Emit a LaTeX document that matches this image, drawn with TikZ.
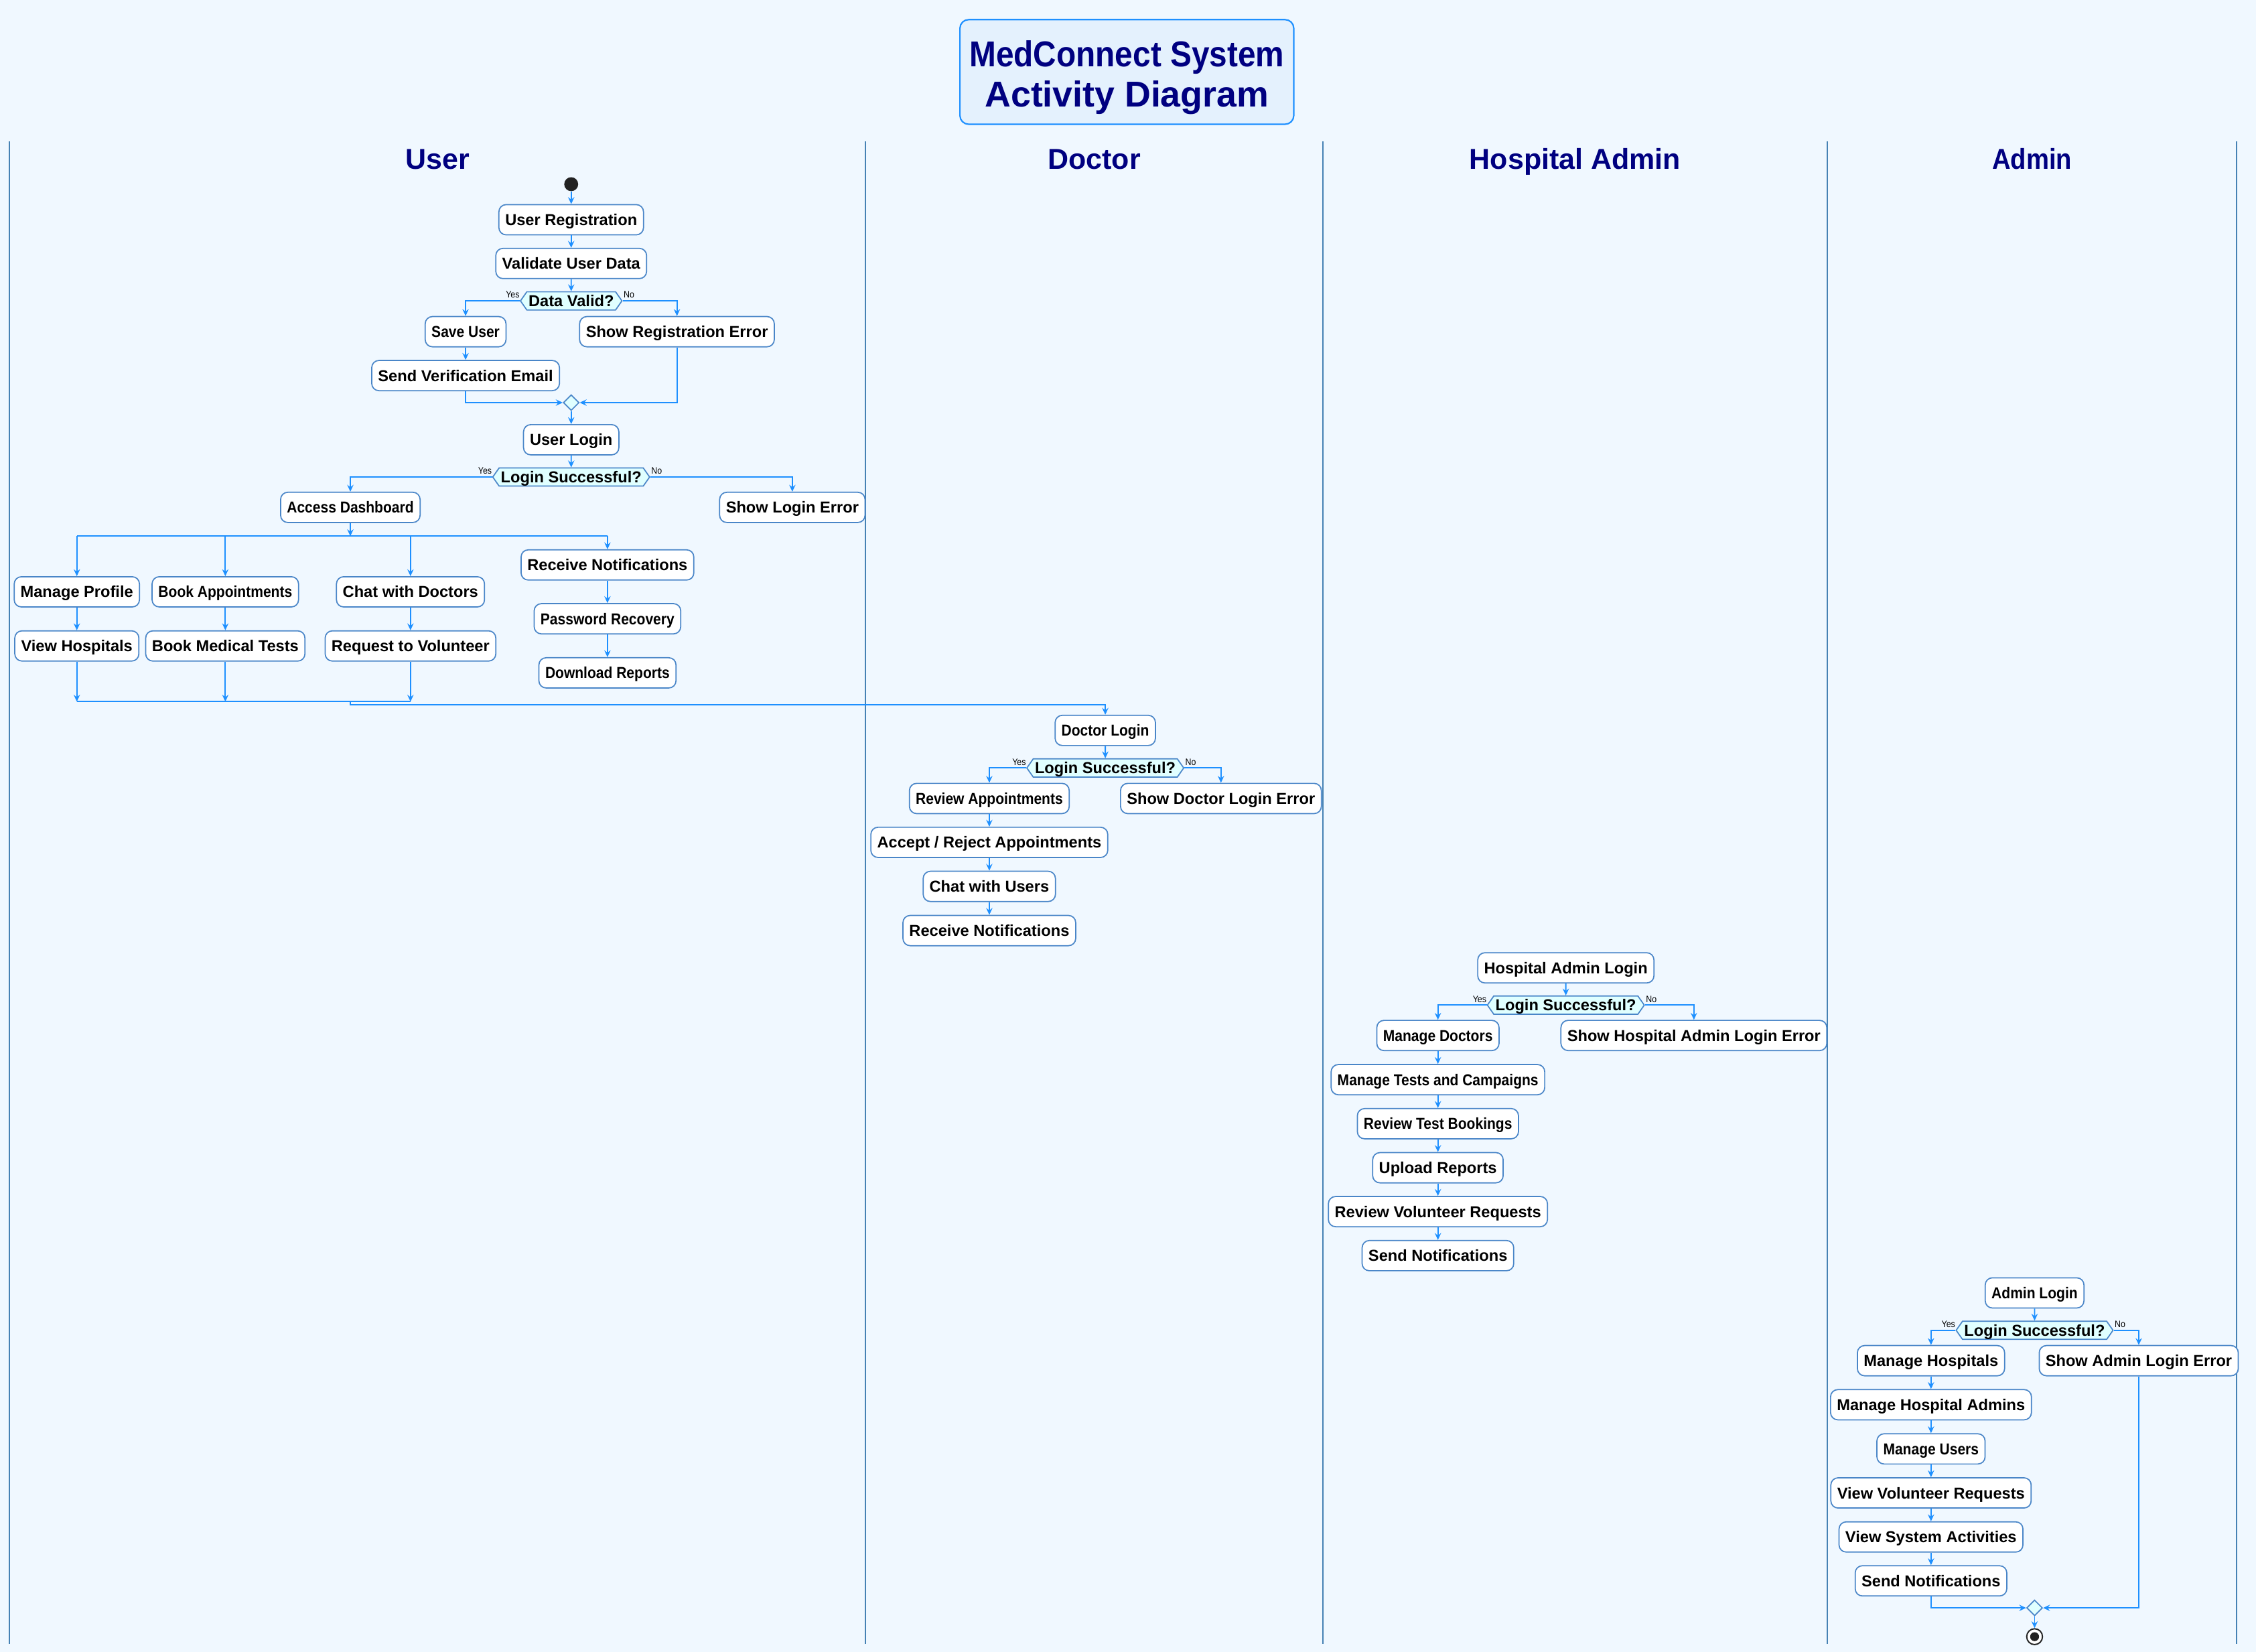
\documentclass[tikz,border=0pt]{standalone}
\usepackage{fontspec}
\setmainfont{Liberation Sans}
\newfontfamily\tightfont[FakeStretch=0.89]{Liberation Sans}
\usetikzlibrary{shapes.geometric,shapes.symbols,arrows.meta}

\definecolor{bgcol}{HTML}{F0F8FF}
\definecolor{lanecol}{HTML}{4682B4}
\definecolor{bordercol}{HTML}{4A86C8}
\definecolor{flowcol}{HTML}{1E90FF}
\definecolor{hexfill}{HTML}{E0FFFF}
\definecolor{titlefill}{HTML}{E4F1FD}
\definecolor{titlecol}{HTML}{000080}
\definecolor{dotcol}{HTML}{222222}

\begin{document}
\begin{tikzpicture}[x=1pt, y=-1pt,
  act/.style={draw=bordercol, fill=white, line width=0.8pt, rounded corners=5pt,
    minimum height=21pt, inner xsep=4.4pt, inner ysep=0pt, text height=7.9pt, text depth=0pt,
    font=\bfseries\fontsize{11}{13}\selectfont},
  tight/.style={font=\tightfont\bfseries\fontsize{11}{13}\selectfont},
  cond/.style={signal, signal to=east and west, signal pointer angle=110,
    draw=bordercol, fill=hexfill, line width=0.8pt, minimum height=12.6pt,
    inner xsep=1.2pt, inner ysep=0pt, text height=7.9pt, text depth=0pt,
    font=\bfseries\fontsize{11}{13}\selectfont},
  guard/.style={inner sep=0pt, font=\tightfont\fontsize{6.5}{7}\selectfont},
  merge/.style={diamond, draw=bordercol, fill=hexfill, line width=0.8pt,
    minimum size=11pt, inner sep=0pt},
  startdot/.style={circle, fill=dotcol, minimum size=9.7pt, inner sep=0pt},
  enddot/.style={circle, draw=dotcol, fill=white, line width=0.9pt,
    minimum size=11pt, inner sep=0pt},
  flow/.style={draw=flowcol, line width=0.9pt, -{Stealth[length=4.8pt,width=4.4pt,inset=1.7pt]}},
  wire/.style={draw=flowcol, line width=0.9pt},
  lane/.style={draw=lanecol, line width=0.9pt},
  lanehead/.style={anchor=base, text=titlecol, font=\bfseries\fontsize{20}{24}\selectfont},
  titlebox/.style={draw=flowcol, fill=titlefill, line width=1pt, rounded corners=6pt,
    minimum width=232pt, minimum height=72.7pt},
  titletext/.style={align=center, text=titlecol, inner sep=0pt,
    font=\bfseries\fontsize{25}{28}\selectfont}]
\useasboundingbox (0,0) rectangle (1568,1148);
\fill[bgcol] (0,0) rectangle (1568,1148);

% Title
\node[titlebox] (title) at (783.2,50) {};
\node[titletext] (titletxt) at (783.2,54) {{\tightfont MedConnect System}\\Activity Diagram};

% Swimlanes
\draw[lane] (6.5,98.2) -- (6.5,1142.3);
\draw[lane] (601.7,98.2) -- (601.7,1142.3);
\draw[lane] (919.3,98.2) -- (919.3,1142.3);
\draw[lane] (1270,98.2) -- (1270,1142.3);
\draw[lane] (1554.5,98.2) -- (1554.5,1142.3);
\node[lanehead] (huser) at (304,117.5) {User};
\node[lanehead] (hdoc) at (760.5,117.5) {Doctor};
\node[lanehead] (hhadm) at (1094.7,117.5) {Hospital Admin};
\node[lanehead] (hadm) at (1412.3,117.5) {\tightfont Admin};

% User: registration
\node[startdot] (start) at (397,128) {};
\node[act] (ureg) at (397,152.7) {User Registration};
\node[act] (uval) at (397,183.1) {Validate User Data};
\node[cond] (vhex) at (397,209.1) {Data Valid?};
\node[guard, anchor=base east] (vyes) at ([yshift=2pt]vhex.west) {Yes};
\node[guard, anchor=base west] (vno) at ([yshift=2pt, xshift=0.5pt]vhex.east) {No};
\node[act, tight] (saveu) at (323.6,230.5) {Save User};
\node[act] (regerr) at (470.5,230.5) {Show Registration Error};
\node[act] (sendve) at (323.6,261) {Send Verification Email};
\node[merge] (umerge) at (397,279.8) {};
\draw[flow] (start) -- (ureg);
\draw[flow] (ureg) -- (uval);
\draw[flow] (uval) -- (vhex);
\draw[flow] (vhex.west) -| (saveu);
\draw[flow] (vhex.east) -| (regerr);
\draw[flow] (saveu) -- (sendve);
\draw[flow] (sendve) |- (umerge);
\draw[flow] (regerr) |- (umerge);

% User: login
\node[act] (ulogin) at (397,305.6) {User Login};
\node[cond] (uhex) at (397,331.5) {Login Successful?};
\node[guard, anchor=base east] (uyes) at ([yshift=2pt]uhex.west) {Yes};
\node[guard, anchor=base west] (uno) at ([yshift=2pt, xshift=0.5pt]uhex.east) {No};
\node[act, tight] (dboard) at (243.5,352.6) {Access Dashboard};
\node[act] (uerr) at (550.7,352.6) {Show Login Error};
\draw[flow] (umerge) -- (ulogin);
\draw[flow] (ulogin) -- (uhex);
\draw[flow] (uhex.west) -| (dboard);
\draw[flow] (uhex.east) -| (uerr);

% User: fork
\coordinate (forkL) at (53.4,372.6);
\coordinate (forkR) at (422.2,372.6);
\node[act] (mprof) at (53.4,411.3) {Manage Profile};
\node[act, tight] (bappt) at (156.6,411.3) {Book Appointments};
\node[act] (chatd) at (285.3,411.3) {Chat with Doctors};
\node[act] (rnotif) at (422.2,392.6) {Receive Notifications};
\node[act] (vhosp) at (53.4,448.9) {View Hospitals};
\node[act] (btests) at (156.6,448.9) {Book Medical Tests};
\node[act] (reqvol) at (285.3,448.9) {Request to Volunteer};
\node[act, tight] (pwrec) at (422.2,430) {Password Recovery};
\node[act, tight] (dlrep) at (422.2,467.6) {Download Reports};
\draw[flow] (dboard) -- (dboard |- forkL);
\draw[wire] (forkL) -- (forkR);
\draw[flow] (forkL) -- (mprof);
\draw[flow] (bappt |- forkL) -- (bappt);
\draw[flow] (chatd |- forkL) -- (chatd);
\draw[flow] (forkR) -- (rnotif);
\draw[flow] (mprof) -- (vhosp);
\draw[flow] (bappt) -- (btests);
\draw[flow] (chatd) -- (reqvol);
\draw[flow] (rnotif) -- (pwrec);
\draw[flow] (pwrec) -- (dlrep);

% User: join
\coordinate (joinL) at (53.4,487.6);
\draw[flow] (vhosp) -- (joinL);
\draw[flow] (btests) -- (btests |- joinL);
\draw[flow] (reqvol) -- (reqvol |- joinL);
\draw[wire] (joinL) -- (reqvol |- joinL);

% Doctor
\node[act, tight] (dlogin) at (768.2,507.6) {Doctor Login};
\node[cond] (dhex) at (768.2,533.7) {Login Successful?};
\node[guard, anchor=base east] (dyes) at ([yshift=2pt]dhex.west) {Yes};
\node[guard, anchor=base west] (dno) at ([yshift=2pt, xshift=0.5pt]dhex.east) {No};
\node[act, tight] (revapp) at (687.6,554.9) {Review Appointments};
\node[act] (dlerr) at (848.6,554.9) {Show Doctor Login Error};
\node[act] (accrej) at (687.6,585.4) {Accept / Reject Appointments};
\node[act] (chatu) at (687.6,616) {Chat with Users};
\node[act] (drnotif) at (687.6,646.7) {Receive Notifications};
\draw[flow] (dboard |- joinL) -- ++(0,2.3) -| (dlogin);
\draw[flow] (dlogin) -- (dhex);
\draw[flow] (dhex.west) -| (revapp);
\draw[flow] (dhex.east) -| (dlerr);
\draw[flow] (revapp) -- (accrej);
\draw[flow] (accrej) -- (chatu);
\draw[flow] (chatu) -- (drnotif);

% Hospital Admin
\node[act] (halogin) at (1088.3,672.6) {Hospital Admin Login};
\node[cond] (hahex) at (1088.3,698.5) {Login Successful?};
\node[guard, anchor=base east] (hayes) at ([yshift=2pt]hahex.west) {Yes};
\node[guard, anchor=base west] (hano) at ([yshift=2pt, xshift=0.5pt]hahex.east) {No};
\node[act, tight] (mdoc) at (999.4,719.6) {Manage Doctors};
\node[act] (haerr) at (1177.3,719.6) {Show Hospital Admin Login Error};
\node[act, tight] (mtests) at (999.4,750.3) {Manage Tests and Campaigns};
\node[act, tight] (rtb) at (999.4,780.9) {Review Test Bookings};
\node[act] (upl) at (999.4,811.5) {Upload Reports};
\node[act] (rvr) at (999.4,842) {Review Volunteer Requests};
\node[act] (hasend) at (999.4,872.6) {Send Notifications};
\draw[flow] (halogin) -- (hahex);
\draw[flow] (hahex.west) -| (mdoc);
\draw[flow] (hahex.east) -| (haerr);
\draw[flow] (mdoc) -- (mtests);
\draw[flow] (mtests) -- (rtb);
\draw[flow] (rtb) -- (upl);
\draw[flow] (upl) -- (rvr);
\draw[flow] (rvr) -- (hasend);

% Admin
\node[act, tight] (alogin) at (1414.1,898.5) {Admin Login};
\node[cond] (ahex) at (1414.1,924.5) {Login Successful?};
\node[guard, anchor=base east] (ayes) at ([yshift=2pt]ahex.west) {Yes};
\node[guard, anchor=base west] (ano) at ([yshift=2pt, xshift=0.5pt]ahex.east) {No};
\node[act] (mhosp) at (1342.1,945.6) {Manage Hospitals};
\node[act] (aerr) at (1486.5,945.6) {Show Admin Login Error};
\node[act] (mhadm) at (1342.1,976.2) {Manage Hospital Admins};
\node[act, tight] (musers) at (1342.1,1006.9) {Manage Users};
\node[act] (vvr) at (1342.1,1037.5) {View Volunteer Requests};
\node[act] (vsa) at (1342.1,1068.1) {View System Activities};
\node[act] (asend) at (1342.1,1098.6) {Send Notifications};
\node[merge] (amerge) at (1414.1,1117.4) {};
\node[enddot] (endn) at (1414.1,1137.4) {};
\fill[dotcol] (endn) circle (3.1pt);
\draw[flow] (alogin) -- (ahex);
\draw[flow] (ahex.west) -| (mhosp);
\draw[flow] (ahex.east) -| (aerr);
\draw[flow] (mhosp) -- (mhadm);
\draw[flow] (mhadm) -- (musers);
\draw[flow] (musers) -- (vvr);
\draw[flow] (vvr) -- (vsa);
\draw[flow] (vsa) -- (asend);
\draw[flow] (asend) |- (amerge);
\draw[flow] (aerr) |- (amerge);
\draw[flow] (amerge) -- (endn);
\end{tikzpicture}
\end{document}
